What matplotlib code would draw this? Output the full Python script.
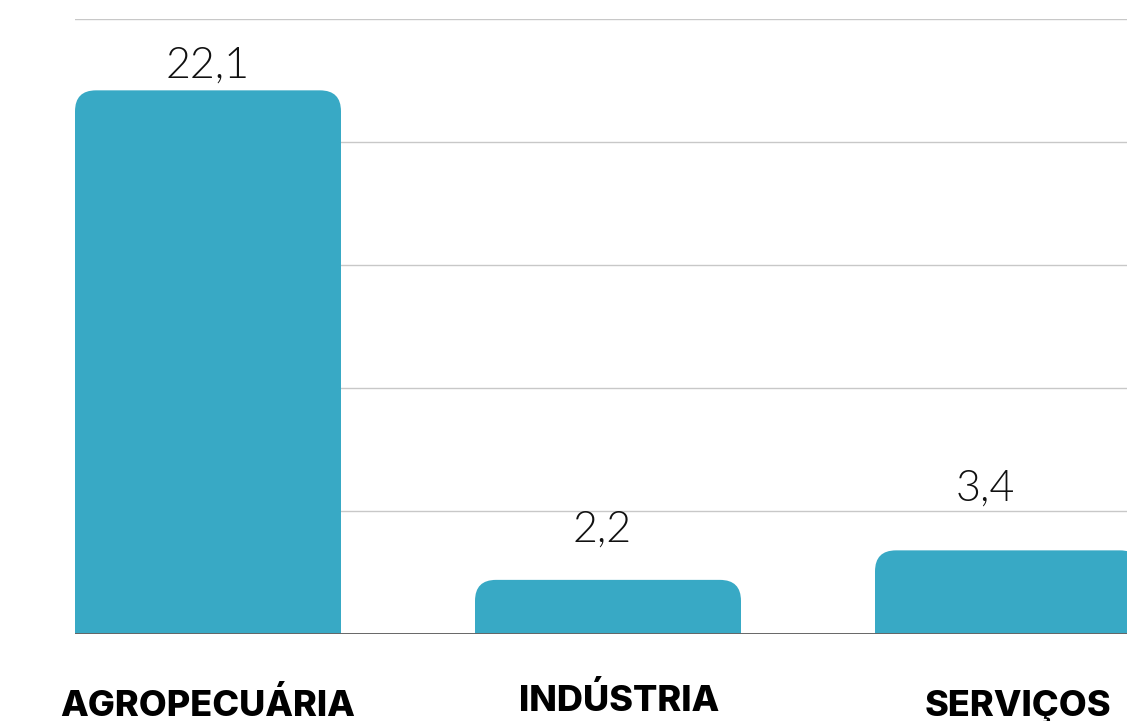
import matplotlib
matplotlib.use("Agg")
import matplotlib.pyplot as plt
from matplotlib.patches import FancyBboxPatch, Rectangle

categories = ["AGROPECUÁRIA", "INDÚSTRIA", "SERVIÇOS"]
values = [22.1, 2.2, 3.4]
value_labels = ["22,1", "2,2", "3,4"]
y_ticks = [0, 5, 10, 15, 20, 25]

# style: per-label offsets (pixels) of value labels and category labels
val_dx = [0, -6, -23]
val_dy = [13, 38, 50]
cat_dx = [0, 11, 10]
cat_dy = [0, 5, 0]

BAR = "#38A9C5"
W, H = 1127, 721
PT = 0.72  # px -> pt at 100 dpi
fig = plt.figure(figsize=(W / 100, H / 100), dpi=100)
ax_left, ax_bottom = 75 / W, (H - 634) / H
ax = fig.add_axes([ax_left, ax_bottom, 1 - ax_left, (634 - 19) / H])

ax.set_xlim(-0.3325, 2.2975)
ax.set_ylim(0, 25)
width = 0.665

px_x = (W - 75) / (2.2975 + 0.3325)
px_y = 615 / 25
r_px = 21
rx = r_px / px_x
ry = r_px / px_y

for yt in y_ticks[1:]:
    ax.axhline(yt, color="#c8c8c8", lw=1.0, zorder=0)

for i, (v, lab) in enumerate(zip(values, value_labels)):
    x0 = i - width / 2
    p = FancyBboxPatch((x0, 0), width, v,
                       boxstyle=f"round,pad=0,rounding_size={rx}",
                       mutation_aspect=ry / rx, fc=BAR, ec="none", zorder=2)
    ax.add_patch(p)
    ax.add_patch(Rectangle((x0, 0), width, v - ry, fc=BAR, ec="none", zorder=2))
    ax.annotate(lab, (i, v), xytext=(val_dx[i] * PT, val_dy[i] * PT),
                textcoords="offset points", ha="center", va="baseline",
                fontsize=31, family="Lato", fontweight=300, color="#111111",
                annotation_clip=False)

ax.axhline(0, color="#666666", lw=1.4, zorder=3)

for i, c in enumerate(categories):
    ax.annotate(c, (i, 0), xytext=(cat_dx[i] * PT, (-82 + cat_dy[i]) * PT),
                textcoords="offset points", ha="center", va="baseline",
                fontsize=26, family="Inter", fontweight=800, color="black",
                annotation_clip=False)

ax.set_xticks([])
ax.set_yticks([])
for s in ax.spines.values():
    s.set_visible(False)
ax.patch.set_alpha(0)

fig.savefig("out.png", dpi=100)
